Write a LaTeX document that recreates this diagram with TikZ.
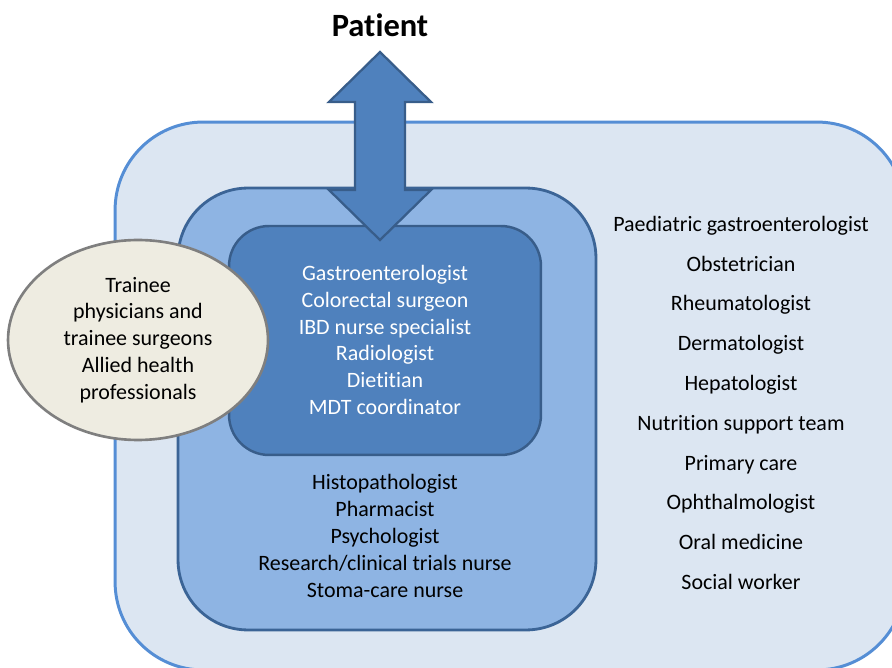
\documentclass[tikz,border=0pt]{standalone}
\usepackage{fontspec}
\setmainfont{Carlito}[Ligatures={NoCommon,NoContextual}]
\usetikzlibrary{shapes}
\definecolor{outerfill}{HTML}{DCE6F2}
\definecolor{outerline}{HTML}{558ED5}
\definecolor{midfill}{HTML}{8EB4E3}
\definecolor{midline}{HTML}{3B6496}
\definecolor{corefill}{HTML}{4F81BD}
\definecolor{coreline}{HTML}{385D8A}
\definecolor{ovalfill}{HTML}{EEECE1}
\definecolor{ovalline}{HTML}{7F7F7F}
\tikzset{>=latex}
\tikzstyle{outerbox}=[rectangle,draw=outerline,fill=outerfill,line width=1.7pt,rounded corners=1.76cm]
\tikzstyle{midbox}=[rectangle,draw=midline,fill=midfill,line width=1.6pt,rounded corners=1.4cm]
\tikzstyle{corebox}=[rectangle,draw=coreline,fill=corefill,line width=1.4pt,rounded corners=0.8cm]
\tikzstyle{oval}=[ellipse,draw=ovalline,fill=ovalfill,line width=1.5pt,inner sep=0pt,align=center]
\tikzstyle{role}=[inner sep=0pt,align=center,font=\fontsize{12.5}{15.25}\selectfont]

\begin{document}
\begin{tikzpicture}[x=0.02cm,y=-0.02cm]
\def \dy {39.8};
\def \cx {380};
\def \shaft {25};
\def \head {51};

\useasboundingbox (0,0) rectangle (892,668);
\clip (0,0) rectangle (892,668);

\node[outerbox,minimum width=15.8cm,minimum height=10.96cm] (outer) at (510,396) {};
\node[midbox,minimum width=8.36cm,minimum height=8.84cm] (mdt) at (387,409) {};
\node[corebox,minimum width=6.24cm,minimum height=4.58cm] (core) at (385,340.5) {};

\node[role,text=white] (corelist) at (385,340)
	{Gastroenterologist\\Colorectal surgeon\\IBD nurse specialist\\Radiologist\\Dietitian\\MDT coordinator};

\node[role] (extlist) at (385,536)
	{Histopathologist\\Pharmacist\\Psychologist\\Research/clinical trials nurse\\Stoma-care nurse};

\foreach \t [count=\i] in {Paediatric gastroenterologist,Obstetrician,Rheumatologist,Dermatologist,Hepatologist,Nutrition support team,Primary care,Ophthalmologist,Oral medicine,Social worker} {
	\node[role,text height=9pt,text depth=3pt] (spec\i) at (741, 226 + \dy*\i - \dy) {\t};
};

\node[oval,minimum width=5.2cm,minimum height=4cm,font=\fontsize{12.5}{15.25}\selectfont] (trainee) at (138,340)
	{Trainee\\physicians and\\trainee surgeons\\Allied health\\professionals};

\filldraw[fill=corefill,draw=coreline,line width=1.3pt,line join=miter]
	(\cx,52) -- (\cx+\head,102) -- (\cx+\shaft,102) -- (\cx+\shaft,190) -- (\cx+\head,190)
	-- (\cx,240) -- (\cx-\head,190) -- (\cx-\shaft,190) -- (\cx-\shaft,102) -- (\cx-\head,102) -- cycle;

\node[font=\fontsize{18.5}{22}\selectfont\bfseries] (patient) at (\cx,25) {Patient};

\end{tikzpicture}
\end{document}
